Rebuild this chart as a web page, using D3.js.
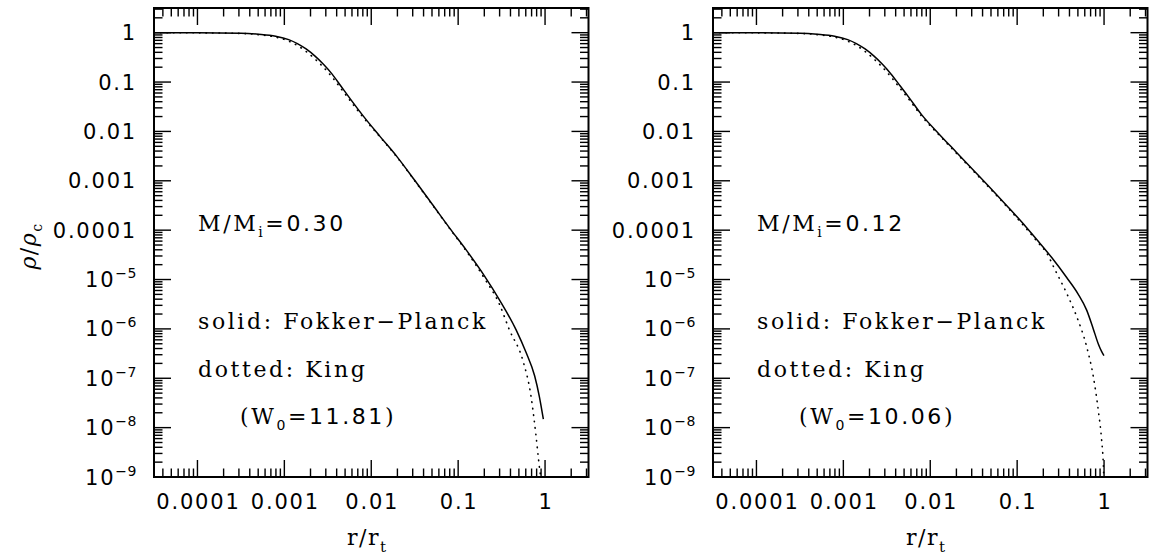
<!DOCTYPE html>
<html>
<head>
<meta charset="utf-8">
<script src="https://cdn.jsdelivr.net/npm/d3@7"></script>
<style>
  body { margin: 0; background: #fff; }
  svg { display: block; }
</style>
</head>
<body>
<script>
// density profiles as [log10 r/rt, log10 rho/rhoc]
var fpLeft = [[-4.5, 0], [-4.0, -0.002], [-3.5, -0.01], [-3.3, -0.03], [-3.1, -0.07], [-2.95, -0.14],
  [-2.85, -0.22], [-2.75, -0.33], [-2.65, -0.47], [-2.55, -0.64], [-2.45, -0.84], [-2.35, -1.08],
  [-2.25, -1.32], [-2.1, -1.67], [-1.9, -2.10], [-1.7, -2.52], [-1.5, -2.99], [-1.3, -3.47],
  [-1.08, -4.0], [-0.908, -4.40], [-0.7, -4.92], [-0.525, -5.41], [-0.333, -6.02], [-0.218, -6.48],
  [-0.12, -6.95], [-0.0655, -7.37], [-0.0195, -7.83]];
var kingLeft = [[-4.5, 0], [-4.0, -0.003], [-3.5, -0.015], [-3.3, -0.04], [-3.1, -0.09], [-2.95, -0.17],
  [-2.85, -0.26], [-2.75, -0.38], [-2.65, -0.53], [-2.55, -0.70], [-2.45, -0.90], [-2.35, -1.13],
  [-2.25, -1.36], [-2.1, -1.70], [-1.9, -2.11], [-1.7, -2.53], [-1.5, -3.0], [-1.3, -3.48],
  [-1.08, -4.01], [-0.908, -4.42], [-0.7, -4.97], [-0.525, -5.5], [-0.41, -6.02], [-0.257, -6.63],
  [-0.161, -7.37], [-0.103, -8.18], [-0.0655, -8.79], [-0.05, -9.0]];
var fpRight = [[-4.5, 0], [-4.0, -0.002], [-3.5, -0.01], [-3.3, -0.03], [-3.1, -0.07], [-2.95, -0.14],
  [-2.85, -0.22], [-2.75, -0.33], [-2.65, -0.47], [-2.55, -0.64], [-2.45, -0.84], [-2.35, -1.07],
  [-2.25, -1.30], [-2.1, -1.66], [-1.9, -2.05], [-1.7, -2.42], [-1.5, -2.79], [-1.3, -3.16],
  [-1.1, -3.54], [-0.9, -3.93], [-0.75, -4.24], [-0.6, -4.56], [-0.43, -4.96], [-0.3, -5.29],
  [-0.2, -5.62], [-0.124, -6.00], [-0.067, -6.30], [-0.03, -6.45], [-0.001, -6.54]];
var kingRight = [[-4.5, 0], [-4.0, -0.003], [-3.5, -0.015], [-3.3, -0.04], [-3.1, -0.09], [-2.95, -0.17],
  [-2.85, -0.26], [-2.75, -0.38], [-2.65, -0.53], [-2.55, -0.70], [-2.45, -0.90], [-2.35, -1.12],
  [-2.25, -1.34], [-2.1, -1.69], [-1.9, -2.07], [-1.7, -2.44], [-1.5, -2.81], [-1.3, -3.18],
  [-1.1, -3.56], [-0.9, -3.96], [-0.75, -4.27], [-0.661, -4.46], [-0.565, -4.80], [-0.43, -5.28],
  [-0.315, -5.75], [-0.2, -6.36], [-0.124, -6.96], [-0.067, -7.64], [-0.028, -8.25], [-0.009, -8.72],
  [-0.003, -9.0]];

// tick values and labels
var xMajor = [1e-4, 1e-3, 1e-2, 1e-1, 1];
var xLabels = ["0.0001", "0.001", "0.01", "0.1", "1"];
var yMajor = [1, 1e-1, 1e-2, 1e-3, 1e-4, 1e-5, 1e-6, 1e-7, 1e-8, 1e-9];
var yLabels = ["1", "0.1", "0.01", "0.001", "0.0001", "10^\u22125", "10^\u22126", "10^\u22127", "10^\u22128", "10^\u22129"];

// annotations
var massLeft = "0.30", massRight = "0.12";
var w0Left = "11.81", w0Right = "10.06";

// layout
var w = 1151;
var h = 559;
var panelW = 434.5;
var top_h = 8;
var end_h = 477;
var panelLefts = [154, 713];
var majorLen = 17;
var minorLen = 8.5;
var tickFont = "DejaVu Sans";
var textFont = "DejaVu Serif";

var svg = d3.select("body").append("svg")
            .attr("width", w)
            .attr("height", h);

function minorTicks(lo, hi, domain) {
  var out = [];
  for (var e = lo; e <= hi; e++) {
    for (var m = 2; m < 10; m++) {
      var v = m * Math.pow(10, e);
      if (v > domain[0] && v < domain[1]) out.push(v);
    }
  }
  return out;
}

// ticks as thin filled rectangles pointing into the frame
function addTicks(layer, values, pos, horizontal, edge, dir, len) {
  var t = 1.4;
  layer.append("g")
   .selectAll("rect")
   .data(values)
   .enter()
   .append("rect")
   .attr("x", function(d) { return horizontal ? pos(d) - t / 2 : (dir > 0 ? edge : edge - len); })
   .attr("y", function(d) { return horizontal ? (dir > 0 ? edge : edge - len) : pos(d) - t / 2; })
   .attr("width", horizontal ? t : len)
   .attr("height", horizontal ? len : t)
   .attr("fill", "#000");
}

function drawPanel(idx, solid, dotted, mass, w0) {
  var x0 = panelLefts[idx];
  var x1 = x0 + panelW;
  var xScale = d3.scaleLog().domain([Math.pow(10, -4.5), Math.pow(10, 0.5)]).range([x0, x1]);
  var yScale = d3.scaleLog().domain([1e-9, Math.pow(10, 0.5)]).range([end_h, top_h]);

  // ticks on all four sides
  var layer = svg.append("g");
  var xMinor = minorTicks(-5, 0, xScale.domain());
  var yMinor = minorTicks(-9, 0, yScale.domain());

  addTicks(layer, xMajor, xScale, true, end_h, -1, majorLen);
  addTicks(layer, xMinor, xScale, true, end_h, -1, minorLen);
  addTicks(layer, xMajor, xScale, true, top_h, 1, majorLen);
  addTicks(layer, xMinor, xScale, true, top_h, 1, minorLen);
  addTicks(layer, yMajor, yScale, false, x0, 1, majorLen);
  addTicks(layer, yMinor, yScale, false, x0, 1, minorLen);
  addTicks(layer, yMajor, yScale, false, x1, -1, majorLen);
  addTicks(layer, yMinor, yScale, false, x1, -1, minorLen);

  // frame
  layer.append("rect")
     .attr("x", x0).attr("y", top_h)
     .attr("width", panelW).attr("height", end_h - top_h)
     .attr("fill", "none").attr("stroke", "#000").attr("stroke-width", 2);

  // x tick labels
  svg.append("g").selectAll("text")
     .data(xMajor)
     .enter()
     .append("text")
     .attr("x", function(d) { return xScale(d) + 1; })
     .attr("y", 509)
     .attr("text-anchor", "middle")
     .attr("font-family", tickFont)
     .attr("font-size", 21)
     .attr("letter-spacing", 1.8)
     .text(function(d, i) { return xLabels[i]; });

  // y tick labels
  var ylab = svg.append("g").selectAll("text")
     .data(yMajor)
     .enter()
     .append("text")
     .attr("x", x0 - 17)
     .attr("y", function(d) { return yScale(d) + 7.5; })
     .attr("text-anchor", "end")
     .attr("font-family", tickFont)
     .attr("font-size", 21)
     .attr("letter-spacing", 1.8);

  ylab.each(function(d, i) {
    var parts = yLabels[i].split("^");
    var t = d3.select(this);
    t.append("tspan").text(parts[0]);
    if (parts.length > 1) {
      t.append("tspan")
       .attr("dy", -9)
       .attr("font-size", 14)
       .attr("letter-spacing", 0.5)
       .text(parts[1]);
    }
  });

  // curves
  var line = d3.line()
               .x(function(d) { return xScale(Math.pow(10, d[0])); })
               .y(function(d) { return yScale(Math.pow(10, d[1])); })
               .curve(d3.curveMonotoneX);

  svg.append("path")
   .attr("d", line(dotted))
   .attr("fill", "none")
   .attr("stroke", "#000")
   .attr("stroke-width", 1.6)
   .attr("stroke-linecap", "round")
   .attr("stroke-dasharray", "0.5,6");

  svg.append("path")
   .attr("d", line(solid))
   .attr("fill", "none")
   .attr("stroke", "#000")
   .attr("stroke-width", 1.5);

  // x axis label
  var xl = svg.append("text")
   .attr("x", (x0 + x1) / 2 - 4)
   .attr("y", 545)
   .attr("text-anchor", "middle")
   .attr("font-family", textFont)
   .attr("font-size", 22)
   .attr("letter-spacing", 1.5);
  xl.append("tspan").text("r/r");
  xl.append("tspan").attr("dy", 7).attr("font-size", 15).text("t");

  // annotations
  var ax = x0 + 44;
  var fs = 22, ls = 2.6;
  var t1 = svg.append("text").attr("x", ax).attr("y", 231)
   .attr("font-family", textFont).attr("font-size", fs).attr("letter-spacing", ls);
  t1.append("tspan").text("M/M");
  t1.append("tspan").attr("dy", 6).attr("font-size", 14).text("i");
  t1.append("tspan").attr("dy", -6).attr("font-family", tickFont).text("=" + mass);

  svg.append("text").attr("x", ax).attr("y", 329)
   .attr("font-family", textFont).attr("font-size", fs).attr("letter-spacing", ls)
   .text("solid: Fokker\u2212Planck");

  svg.append("text").attr("x", ax).attr("y", 377)
   .attr("font-family", textFont).attr("font-size", fs).attr("letter-spacing", ls)
   .text("dotted: King");

  var t4 = svg.append("text").attr("x", x0 + 86).attr("y", 424)
   .attr("font-family", textFont).attr("font-size", fs).attr("letter-spacing", ls);
  t4.append("tspan").text("(W");
  t4.append("tspan").attr("dy", 6).attr("font-size", 14).attr("font-family", tickFont).text("0");
  t4.append("tspan").attr("dy", -6).attr("font-family", tickFont).text("=" + w0);
  t4.append("tspan").text(")");

  // y axis label
  if (idx == 0) {
    var yl = svg.append("text")
     .attr("transform", "translate(36, 246) rotate(-90)")
     .attr("text-anchor", "middle")
     .attr("font-family", textFont)
     .attr("font-size", 22)
     .attr("letter-spacing", 1.5);
    yl.append("tspan").attr("font-style", "italic").text("\u03c1");
    yl.append("tspan").text("/");
    yl.append("tspan").attr("font-style", "italic").text("\u03c1");
    yl.append("tspan").attr("dy", 6).attr("font-size", 14).text("c");
  }
}

drawPanel(0, fpLeft, kingLeft, massLeft, w0Left);
drawPanel(1, fpRight, kingRight, massRight, w0Right);
</script>
</body>
</html>
